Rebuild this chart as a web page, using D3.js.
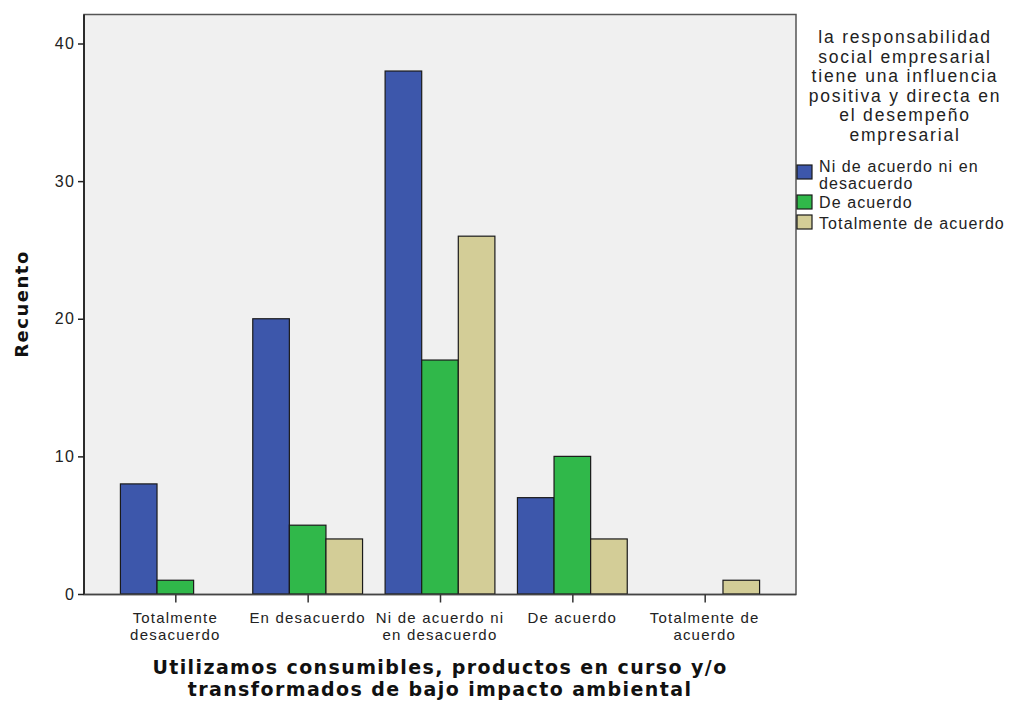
<!DOCTYPE html>
<html><head><meta charset="utf-8">
<script src="https://cdn.jsdelivr.net/npm/d3@7"></script>
<style>body{margin:0;background:#fff}</style>
</head><body>
<script>
const categories = ["Totalmente desacuerdo","En desacuerdo","Ni de acuerdo ni en desacuerdo","De acuerdo","Totalmente de acuerdo"];
const categoryLabels = [["Totalmente","desacuerdo"],["En desacuerdo"],["Ni de acuerdo ni","en desacuerdo"],["De acuerdo"],["Totalmente de","acuerdo"]];
const seriesNames = ["Ni de acuerdo ni en desacuerdo","De acuerdo","Totalmente de acuerdo"];
const seriesLegendLabels = [["Ni de acuerdo ni en","desacuerdo"],["De acuerdo"],["Totalmente de acuerdo"]];
const seriesColors = ["#3d57ab","#30b84a","#d3cd97"];
const valuesNiNi = [8,20,38,7,0];
const valuesDeAcuerdo = [1,5,17,10,0];
const valuesTotalmente = [0,4,26,4,1];
const yTicks = [0,10,20,30,40];
const legendTitle = ["la responsabilidad","social empresarial","tiene una influencia","positiva y directa en","el desempeño","empresarial"];
const xTitle = ["Utilizamos consumibles, productos en curso y/o","transformados de bajo impacto ambiental"];
const yTitle = "Recuento";

const series = [valuesNiNi, valuesDeAcuerdo, valuesTotalmente];

const W=1009,H=702;
const SANS="Liberation Sans, Arial, sans-serif";
const BOLD="DejaVu Sans, Verdana, sans-serif";
const svg=d3.select("body").append("svg").attr("width",W).attr("height",H);
const L=84,T=14.5,R=796,B=594.5;
const y=d3.scaleLinear().domain([0,40]).range([594,43.5]);
const x=d3.scalePoint().domain(categories).range([L,R]).padding(0.69);
const bw=36.6;
const xs=d3.scaleBand().domain(seriesNames).range([-bw*1.5,bw*1.5]).padding(0);

svg.append("rect").attr("x",L).attr("y",T).attr("width",R-L).attr("height",B-T).attr("fill","#f0f0f0").attr("stroke","#555").attr("stroke-width",1.5);

const g=svg.append("g");
series.forEach((vals,si)=>{
  g.selectAll(null).data(vals.map((v,i)=>({v,c:categories[i]})).filter(d=>d.v>0)).enter().append("rect")
   .attr("x",d=>x(d.c)+xs(seriesNames[si]))
   .attr("y",d=>y(d.v))
   .attr("width",xs.bandwidth())
   .attr("height",d=>y(0)-y(d.v))
   .attr("fill",seriesColors[si]).attr("stroke","#1a1a1a").attr("stroke-width",1.2);
});

svg.append("line").attr("x1",L).attr("x2",L).attr("y1",T).attr("y2",B).attr("stroke","#111").attr("stroke-width",1.5);
svg.append("line").attr("x1",L).attr("x2",R).attr("y1",B).attr("y2",B).attr("stroke","#444").attr("stroke-width",1.5);
const ya=svg.append("g").attr("transform",`translate(${L},0)`).call(d3.axisLeft(y).tickValues(yTicks).tickSize(6).tickPadding(3).tickFormat(d3.format("d")));
ya.select(".domain").remove();
ya.selectAll(".tick line").attr("stroke","#222").attr("stroke-width",1.5);
ya.selectAll("text").attr("font-family",SANS).attr("font-size",16).attr("letter-spacing",1.2).attr("fill","#222");

const xa=svg.append("g").attr("transform",`translate(0,${B})`).call(d3.axisBottom(x).tickSize(8).tickFormat(""));
xa.select(".domain").remove();
xa.selectAll(".tick line").attr("stroke","#333").attr("stroke-width",1.5);
categories.forEach((c,i)=>{
  const t=svg.append("text").attr("x",x(c)).attr("y",623).attr("text-anchor","middle")
   .attr("font-family",SANS).attr("font-size",15).attr("letter-spacing",1.2).attr("fill","#222");
  categoryLabels[i].forEach((l,j)=>t.append("tspan").attr("x",x(c)).attr("dy",j?16.5:0).text(l));
});

const xt=svg.append("text").attr("x",440).attr("y",674).attr("text-anchor","middle")
  .attr("font-family",BOLD).attr("font-weight","bold").attr("font-size",19).attr("letter-spacing",1.4).attr("fill","#111");
xTitle.forEach((l,j)=>xt.append("tspan").attr("x",440).attr("dy",j?22:0).text(l));
svg.append("text").attr("transform","translate(28,304) rotate(-90)").attr("text-anchor","middle")
  .attr("font-family",BOLD).attr("font-weight","bold").attr("font-size",18).attr("letter-spacing",1.5).attr("fill","#111").text(yTitle);

const lt=svg.append("text").attr("x",905).attr("y",43).attr("text-anchor","middle")
  .attr("font-family",SANS).attr("font-size",17.5).attr("letter-spacing",1.8).attr("fill","#222");
legendTitle.forEach((l,j)=>lt.append("tspan").attr("x",905).attr("dy",j?19.6:0).text(l));
const legY=[165,195,215];
const legBase=[172,208,229];
seriesNames.forEach((s,i)=>{
  svg.append("rect").attr("x",797).attr("y",legY[i]).attr("width",15).attr("height",14)
   .attr("fill",seriesColors[i]).attr("stroke","#1a1a1a").attr("stroke-width",1.2);
  const t=svg.append("text").attr("x",819).attr("y",legBase[i]).attr("font-family",SANS).attr("font-size",16).attr("letter-spacing",1.1).attr("fill","#222");
  seriesLegendLabels[i].forEach((l,j)=>t.append("tspan").attr("x",819).attr("dy",j?16.5:0).text(l));
});
</script>
</body></html>
